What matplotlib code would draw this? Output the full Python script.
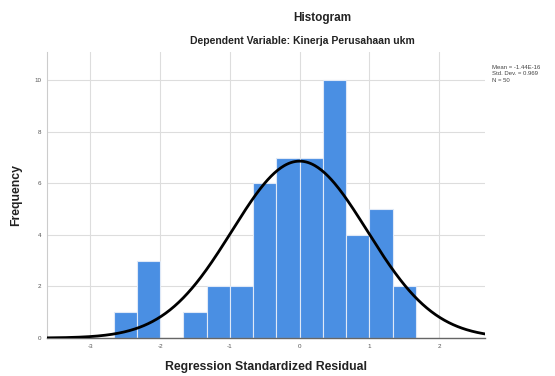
import matplotlib.pyplot as plt
import numpy as np

# histogram data (bin edges in thirds of a standard unit)
bin_edges = [-8 / 3, -7 / 3, -6 / 3, -5 / 3, -4 / 3, -3 / 3, -2 / 3, -1 / 3,
             0, 1 / 3, 2 / 3, 3 / 3, 4 / 3, 5 / 3]
counts = [1, 3, 0, 1, 2, 2, 6, 7, 7, 10, 4, 5, 2]
mean = 0.0
std_dev = 0.969
n = 50
x_ticks = [-3, -2, -1, 0, 1, 2]
y_ticks = [0, 2, 4, 6, 8, 10]

plt.rcParams["font.family"] = ["Liberation Sans", "DejaVu Sans"]
plt.rcParams["axes.unicode_minus"] = False

fig = plt.figure(figsize=(5.55, 3.76), dpi=100)
ax = fig.add_axes([0.085, 0.101, 0.789, 0.761])

lefts = bin_edges[:-1]
widths = np.diff(bin_edges)
ax.bar(lefts, counts, width=widths, align="edge", color="#4a8fe3",
       edgecolor="#dfe9f7", linewidth=0.8, zorder=2)

# normal curve scaled to counts
xs = np.linspace(-3.62, 2.66, 400)
bw = bin_edges[1] - bin_edges[0]
ys = n * bw * np.exp(-0.5 * ((xs - mean) / std_dev) ** 2) / (std_dev * np.sqrt(2 * np.pi))
ax.plot(xs, ys, color="black", linewidth=2.0, zorder=3)

ax.set_xlim(-3.62, 2.66)
ax.set_ylim(0, 11.1)
ax.set_xticks(x_ticks)
ax.set_yticks(y_ticks)
ax.tick_params(axis="both", labelsize=4.5, colors="#555555", length=0, pad=4)
ax.grid(True, color="#dddddd", linewidth=0.8, zorder=0)
ax.set_axisbelow(True)
for side in ["top", "right"]:
    ax.spines[side].set_visible(False)
ax.spines["left"].set_color("#cccccc")
ax.spines["bottom"].set_color("#666666")
ax.spines["bottom"].set_linewidth(1.0)

ax.set_xlabel("Regression Standardized Residual", fontsize=8.8, fontweight="bold",
              color="#222222", labelpad=9)
ax.set_ylabel("Frequency", fontsize=8.8, fontweight="bold", color="#222222", labelpad=9)

fig.text(0.581, 0.952, "Histogram", fontsize=8.5, fontweight="bold", ha="center",
         va="center", color="#222222")
fig.text(0.545, 0.890, "Dependent Variable: Kinerja Perusahaan ukm", fontsize=7.5,
         fontweight="bold", ha="center", va="center", color="#222222")

fig.text(0.886, 0.828, f"Mean = -1.44E-16\nStd. Dev. = {std_dev}\nN = {n}",
         fontsize=4.3, ha="left", va="top", color="#444444", linespacing=1.45)

fig.savefig("out.png", dpi=100)
